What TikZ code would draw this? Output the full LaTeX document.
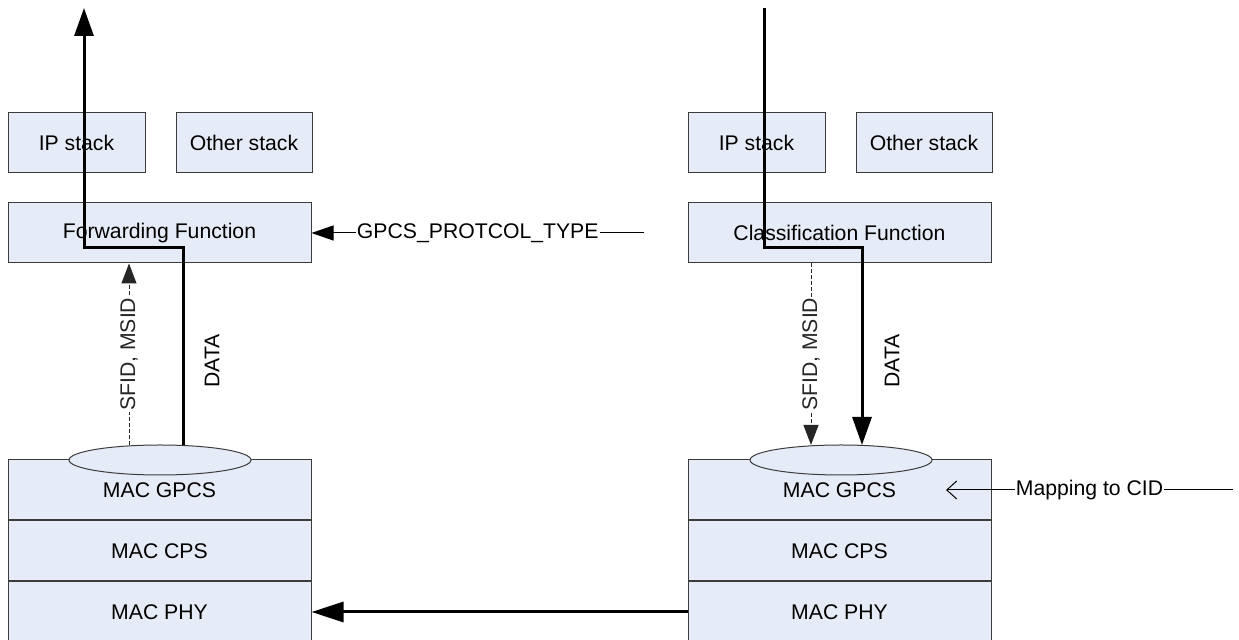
\documentclass[tikz,border=0pt]{standalone}
\usepackage{fontspec}
\setmainfont{Liberation Sans}
\usetikzlibrary{positioning,shapes.geometric,arrows.meta}
\definecolor{layerfill}{RGB}{230,236,247}
\definecolor{layerline}{RGB}{60,60,60}
\tikzset{
  layer/.style={draw=layerline,fill=layerfill,line width=0.5pt,inner sep=0pt,minimum height=30pt},
  sap/.style={ellipse,draw=layerline,fill=layerfill,line width=0.5pt,inner sep=0pt,minimum width=91pt,minimum height=15pt},
  datapath/.style={line width=1.5pt,-{Triangle[length=14pt,width=9.5pt]}},
  sigpath/.style={line width=0.5pt,black!85,dash pattern=on 2pt off 1pt,-{Triangle[length=10pt,width=7.5pt]}},
  ctrlpath/.style={line width=0.5pt,-{Triangle[length=11pt,width=7.5pt]}},
  mappath/.style={line width=0.5pt,-{Straight Barb[length=5pt,width=9pt]}},
  phypath/.style={line width=1.5pt,-{Triangle[length=16pt,width=10pt]}},
  tag/.style={fill=white,inner sep=0.5pt}
}
\begin{document}
\begin{tikzpicture}[x=0.5pt,y=-0.5pt,font=\fontsize{10.6}{12.7}\selectfont]
    \useasboundingbox (0,0) rectangle (1239,640);
    %% receiving side
    \node[layer,minimum width=68.5pt] (ipL) at (76.5,142.5) {IP stack};
    \node[layer,minimum width=68pt,right=15pt of ipL] (othL) {Other stack};
    \node[layer,minimum width=151.5pt] (fwd) at (159.5,233) {Forwarding Function};
    \node[layer,minimum width=151.5pt] (gpcsL) at (159.5,490) {MAC GPCS};
    \node[layer,minimum width=151.5pt,below=0pt of gpcsL] (cpsL) {MAC CPS};
    \node[layer,minimum width=151.5pt,below=0pt of cpsL] (phyL) {MAC PHY};
    \node[sap] (ellL) at (160,460) {};
    %% sending side
    \node[layer,minimum width=68.5pt] (ipR) at (756.5,142.5) {IP stack};
    \node[layer,minimum width=68pt,right=15pt of ipR] (othR) {Other stack};
    \node[layer,minimum width=151.5pt] (cls) at (839.5,233) {Classification Function};
    \node[layer,minimum width=151.5pt] (gpcsR) at (839.5,490) {MAC GPCS};
    \node[layer,minimum width=151.5pt,below=0pt of gpcsR] (cpsR) {MAC CPS};
    \node[layer,minimum width=151.5pt,below=0pt of cpsR] (phyR) {MAC PHY};
    \node[sap] (ellR) at (841,460) {};
    %% data flow
    \coordinate (dataL) at (183,445);
    \coordinate (bendL) at (84,248);
    \coordinate (outL) at (84,8);
    \draw[datapath] (dataL) |- (bendL) -- (outL);
    \coordinate (inR) at (764,8);
    \coordinate (bendR) at (862,248);
    \coordinate (dataR) at (862,445);
    \draw[datapath] (inR) |- (bendR) -- (dataR);
    \node[rotate=90] (dataTagL) at (212,361) {DATA};
    \node[rotate=90] (dataTagR) at (892,361) {DATA};
    %% SFID / MSID signalling
    \coordinate (sigL) at (129,445);
    \draw[sigpath] (sigL) -- (sigL |- fwd.south) node[midway,rotate=90,tag] {SFID, MSID};
    \coordinate (sigR) at (811,445);
    \draw[sigpath] (sigR |- cls.south) -- (sigR) node[midway,rotate=90,tag] {SFID, MSID};
    %% protocol type and CID mapping
    \coordinate (ptype) at (644,233);
    \draw[ctrlpath] (ptype) -- (fwd.east) node[midway,tag] {GPCS\_PROTCOL\_TYPE};
    \coordinate (cidsrc) at (1233,490);
    \coordinate (cidtip) at (946,490);
    \draw[mappath] (cidsrc) -- (cidtip) node[midway,tag] {Mapping to CID};
    %% air link
    \draw[phypath] (phyR.west) -- (phyL.east);
\end{tikzpicture}
\end{document}
